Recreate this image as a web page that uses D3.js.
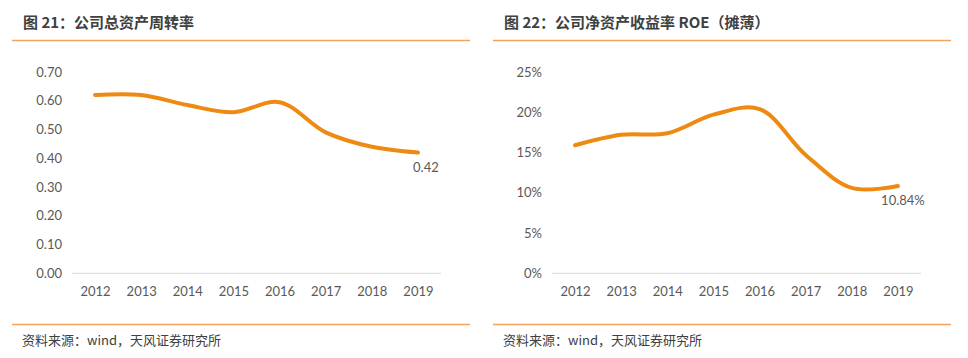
<!DOCTYPE html>
<html>
<head>
  <meta charset="utf-8">
  <style>
    body {
      margin: 0;
      background: #fff;
    }
    svg {
      display: block;
    }
    .title {
      font-family: "Noto Sans CJK SC", sans-serif;
      font-weight: bold;
      font-size: 15px;
      fill: #404040;
    }
    .source {
      font-family: "Noto Sans CJK SC", sans-serif;
      font-size: 13px;
      fill: #404040;
    }
    .tick text, .value-label {
      font-family: Lato, "Open Sans", sans-serif;
      font-size: 13px;
      fill: #595959;
    }
  </style>
</head>
<body>
  <svg id="chart" width="968" height="358"></svg>
  <script src="https://d3js.org/d3.v7.min.js"></script>
  <script>

    // DATA
    var years = ['2012', '2013', '2014', '2015', '2016', '2017', '2018', '2019'];

    var turnover = [0.62, 0.62, 0.585, 0.56, 0.595, 0.49, 0.44, 0.42];
    var turnoverTicks = [0, 0.1, 0.2, 0.3, 0.4, 0.5, 0.6, 0.7];

    var roe = [15.9, 17.2, 17.4, 19.7, 20.4, 14.7, 10.6, 10.84];
    var roeTicks = [0, 5, 10, 15, 20, 25];

    var titles = ['图 21：公司总资产周转率', '图 22：公司净资产收益率 ROE（摊薄）'];
    var sourceText = '资料来源：wind，天风证券研究所';

    var ORANGE = '#EE8A12';
    var RULE = '#F5A25C';

    var svg = d3.select('#chart');

    function panel(opts) {

      var g = svg.append('g');

      // header / footer
      g.append('text')
        .attr('class', 'title')
        .attr('x', opts.titleX)
        .attr('y', 28)
        .text(opts.title);

      g.append('line')
        .attr('x1', opts.ruleX0).attr('x2', opts.ruleX1)
        .attr('y1', 40.5).attr('y2', 40.5)
        .style('stroke', RULE)
        .style('stroke-width', 1.5);

      g.append('line')
        .attr('x1', opts.ruleX0).attr('x2', opts.ruleX1)
        .attr('y1', 324.5).attr('y2', 324.5)
        .style('stroke', RULE)
        .style('stroke-width', 1.5);

      g.append('text')
        .attr('class', 'source')
        .attr('x', opts.titleX - 1)
        .attr('y', 345)
        .text(sourceText);

      // scales
      var x = d3.scalePoint()
        .domain(years)
        .range([opts.plotX0, opts.plotX1])
        .padding(0.5);

      var y = d3.scaleLinear()
        .domain([0, opts.yMax])
        .range([273.3, 72]);

      var yAxis = d3.axisLeft(y)
        .tickValues(opts.ticks)
        .tickSize(0)
        .tickPadding(10)
        .tickFormat(opts.fmt);

      g.append('g')
        .attr('transform', `translate(${opts.plotX0},0)`)
        .call(yAxis)
        .call(s => s.select('.domain').remove());

      var xAxis = d3.axisBottom(x)
        .tickSize(0)
        .tickPadding(13);

      g.append('g')
        .attr('transform', `translate(0,${y(0)})`)
        .call(xAxis)
        .call(s => s.select('.domain')
          .attr('d', `M${opts.plotX0},0H${opts.plotX1}`)
          .style('stroke', '#D9D9D9'));

      var line = d3.line()
        .x((d, i) => x(years[i]))
        .y(d => y(d))
        .curve(d3.curveCatmullRom.alpha(0.5));

      g.append('path')
        .datum(opts.values)
        .attr('d', line)
        .style('fill', 'none')
        .style('stroke', ORANGE)
        .style('stroke-width', 4)
        .style('stroke-linecap', 'round');

      var last = opts.values[opts.values.length - 1];

      g.append('text')
        .attr('class', 'value-label')
        .attr('x', x(years[years.length - 1]) + opts.labelDx)
        .attr('y', y(last) + 19)
        .attr('text-anchor', 'middle')
        .text(opts.label(last));
    }

    panel({
      title: titles[0],
      titleX: 23,
      ruleX0: 12,
      ruleX1: 470,
      plotX0: 72,
      plotX1: 441,
      yMax: 0.7,
      ticks: turnoverTicks,
      fmt: d3.format('.2f'),
      values: turnover,
      labelDx: 8,
      label: v => v.toFixed(2)
    });

    panel({
      title: titles[1],
      titleX: 504,
      ruleX0: 493,
      ruleX1: 951,
      plotX0: 552,
      plotX1: 921,
      yMax: 25,
      ticks: roeTicks,
      fmt: d => d + '%',
      values: roe,
      labelDx: 5,
      label: v => v.toFixed(2) + '%'
    });

  </script>
</body>
</html>
